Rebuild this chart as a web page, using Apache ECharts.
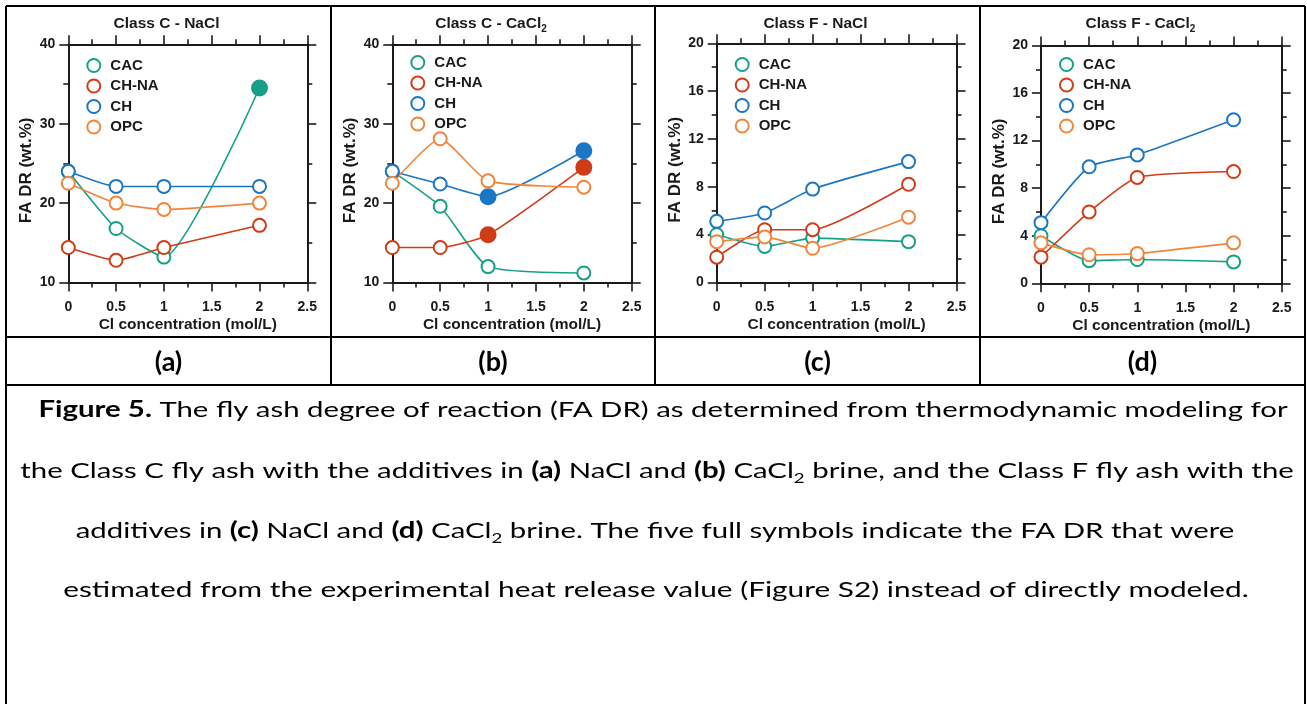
<!DOCTYPE html>
<html>
<head>
<meta charset="utf-8">
<script src="https://cdn.jsdelivr.net/npm/echarts@6/dist/echarts.min.js"></script>
<style>
  html, body { margin: 0; padding: 0; background: #fff; }
  #main { width: 1307px; height: 704px; }
</style>
</head>
<body>
<div id="main"></div>
<script>
// ---- data ----
var xValues = [0, 0.5, 1, 2];
var xTicks = [0, 0.5, 1, 1.5, 2, 2.5];
var classCYTicks = [10, 20, 30, 40];
var classFYTicks = [0, 4, 8, 12, 16, 20];
var seriesNames = ['CAC', 'CH-NA', 'CH', 'OPC'];

// (a) Class C - NaCl
var aCAC = [24.0, 16.8, 13.2, 34.5];
var aCHNA = [14.4, 12.8, 14.4, 17.2];
var aCH = [24.0, 22.1, 22.1, 22.1];
var aOPC = [22.5, 20.0, 19.2, 20.0];
// (b) Class C - CaCl2
var bCAC = [24.0, 19.6, 12.0, 11.2];
var bCHNA = [14.4, 14.4, 16.0, 24.5];
var bCH = [24.0, 22.4, 20.8, 26.6];
var bOPC = [22.5, 28.1, 22.8, 22.0];
// (c) Class F - NaCl
var cCAC = [4.0, 3.0, 3.7, 3.4];
var cCHNA = [2.1, 4.4, 4.4, 8.2];
var cCH = [5.1, 5.8, 7.8, 10.1];
var cOPC = [3.4, 3.8, 2.85, 5.45];
// (d) Class F - CaCl2
var dCAC = [4.0, 1.9, 2.0, 1.8];
var dCHNA = [2.2, 6.0, 8.9, 9.4];
var dCH = [5.1, 9.8, 10.8, 13.75];
var dOPC = [3.4, 2.4, 2.5, 3.4];

// full symbols: [series index, point index]
var aFilled = [[0, 3]];
var bFilled = [[1, 2], [1, 3], [2, 2], [2, 3]];
var cFilled = [];
var dFilled = [];

var panelTitles = ['Class C - NaCl', 'Class C - CaCl{sub|2}', 'Class F - NaCl', 'Class F - CaCl{sub|2}'];
var panelLabels = ['(a)', '(b)', '(c)', '(d)'];

// ---- styling ----
var colors = ['#16a087', '#d03c17', '#1b76c4', '#f2853c'];
var axisColor = '#1a1a1a';
var font = 'Liberation Sans';
var capFont = 'Lato';

var panels = [
  { data: [aCAC, aCHNA, aCH, aOPC], filled: aFilled, yTicks: classCYTicks, rect: [68.3, 44.3, 239, 238.2], legendTop: 58, cell: [6, 331] },
  { data: [bCAC, bCHNA, bCH, bOPC], filled: bFilled, yTicks: classCYTicks, rect: [392.3, 44.3, 239.4, 238.2], legendTop: 55, cell: [331, 655] },
  { data: [cCAC, cCHNA, cCH, cOPC], filled: cFilled, yTicks: classFYTicks, rect: [716.7, 43.3, 239.8, 239], legendTop: 57, cell: [655, 980] },
  { data: [dCAC, dCHNA, dCH, dOPC], filled: dFilled, yTicks: classFYTicks, rect: [1041, 45.5, 240.7, 237.8], legendTop: 57, cell: [980, 1305] }
];

var chart = echarts.init(document.getElementById('main'));

var grids = [], xAxes = [], yAxes = [], series = [], legends = [], graphics = [];

function tickLine() { return { show: true, inside: false, length: 9, lineStyle: { color: axisColor, width: 1.6 } }; }
function minorLine() { return { show: true, splitNumber: 2, length: 5, lineStyle: { color: axisColor, width: 1.6 } }; }

panels.forEach(function (p, i) {
  var r = p.rect;
  grids.push({ left: r[0], top: r[1], width: r[2], height: r[3], containLabel: false });

  var xBase = {
    type: 'value', gridIndex: i, min: xTicks[0], max: xTicks[xTicks.length - 1],
    interval: xTicks[1] - xTicks[0],
    axisLine: { show: true, onZero: false, lineStyle: { color: axisColor, width: 2 } },
    axisTick: tickLine(), minorTick: minorLine(),
    splitLine: { show: false }, minorSplitLine: { show: false }
  };
  xAxes.push(Object.assign({}, xBase, {
    position: 'bottom',
    axisLabel: { show: true, margin: 18, fontSize: 14, fontWeight: 'bold', color: axisColor, fontFamily: font },
    name: 'Cl concentration (mol/L)', nameLocation: 'middle', nameGap: 34,
    nameTextStyle: { fontSize: 15.5, fontWeight: 'bold', color: axisColor, fontFamily: font }
  }));
  xAxes.push(Object.assign({}, xBase, { position: 'top', axisLabel: { show: false } }));

  var yBase = {
    type: 'value', gridIndex: i, min: p.yTicks[0], max: p.yTicks[p.yTicks.length - 1],
    interval: p.yTicks[1] - p.yTicks[0],
    axisLine: { show: true, onZero: false, lineStyle: { color: axisColor, width: 2 } },
    axisTick: tickLine(), minorTick: minorLine(),
    splitLine: { show: false }, minorSplitLine: { show: false }
  };
  yAxes.push(Object.assign({}, yBase, {
    position: 'left',
    axisLabel: { show: true, margin: 13, fontSize: 14, fontWeight: 'bold', color: axisColor, fontFamily: font },
    name: 'FA DR (wt.%)', nameLocation: 'middle', nameGap: 33, nameRotate: 90,
    nameTextStyle: { fontSize: 17, fontWeight: 'bold', color: axisColor, fontFamily: font, padding: [0, 14, 0, 0] }
  }));
  yAxes.push(Object.assign({}, yBase, { position: 'right', axisLabel: { show: false } }));

  p.data.forEach(function (vals, s) {
    var c = colors[s];
    series.push({
      name: seriesNames[s], type: 'line', xAxisIndex: 2 * i, yAxisIndex: 2 * i,
      smooth: 0.18, symbol: 'circle', symbolSize: 13, showAllSymbol: true,
      lineStyle: { color: c, width: 1.6 },
      itemStyle: { color: '#fff', borderColor: c, borderWidth: 2 },
      emphasis: { disabled: true },
      data: vals.map(function (v, k) {
        var full = p.filled.some(function (f) { return f[0] === s && f[1] === k; });
        return full ? { value: [xValues[k], v], symbolSize: 15, itemStyle: { color: c, borderColor: c } } : [xValues[k], v];
      })
    });
  });

  legends.push({
    data: seriesNames, orient: 'vertical', left: r[0] + 18, top: p.legendTop, padding: 0,
    icon: 'circle', itemWidth: 13, itemHeight: 13, itemGap: 5.5,
    selectedMode: false,
    textStyle: { fontSize: 15, fontWeight: 'bold', color: axisColor, fontFamily: font, lineHeight: 14, padding: [0, 0, 0, 5] }
  });

  var cx = (p.cell[0] + p.cell[1]) / 2;
  graphics.push({
    type: 'text', x: cx - 2, y: 24,
    style: {
      text: panelTitles[i], fill: axisColor, align: 'center', verticalAlign: 'middle',
      textAlign: 'center', textVerticalAlign: 'middle',
      fontSize: 15.5, fontWeight: 'bold', fontFamily: font, lineHeight: 20,
      rich: { sub: { fontSize: 10, fontWeight: 'bold', fontFamily: font, fill: axisColor, verticalAlign: 'bottom', lineHeight: 10 } }
    }
  });
  graphics.push({
    type: 'text', x: cx, y: 362,
    style: {
      text: panelLabels[i], fill: '#000', align: 'center', verticalAlign: 'middle',
      textAlign: 'center', textVerticalAlign: 'middle',
      fontSize: 27, fontWeight: 'bold', fontFamily: capFont
    }
  });
});

// table borders
var L = 6, R = 1305, T = 6, B = 704;
function seg(x1, y1, x2, y2) {
  return { type: 'line', shape: { x1: x1, y1: y1, x2: x2, y2: y2 }, style: { stroke: '#000', lineWidth: 2 }, z: 10 };
}
graphics.push(seg(L, T, R, T), seg(L, 337, R, 337), seg(L, 385, R, 385),
  seg(L, T, L, B), seg(R, T, R, B), seg(331, T, 331, 385), seg(655, T, 655, 385), seg(980, T, 980, 385));

// caption
var captionLines = [
  '{b|Figure 5.} The fly ash degree of reaction (FA DR) as determined from thermodynamic modeling for',
  'the Class C fly ash with the additives in {b|(a)} NaCl and {b|(b)} CaCl{sub|2} brine, and the Class F fly ash with the',
  'additives in {b|(c)} NaCl and {b|(d)} CaCl{sub|2} brine. The five full symbols indicate the FA DR that were',
  'estimated from the experimental heat release value (Figure S2) instead of directly modeled.'
];
var captionX = [663, 657, 655, 656];
var captionY = [410, 471, 531, 590];
var captionScale = [1.335, 1.335, 1.335, 1.355];
captionLines.forEach(function (t, k) {
  graphics.push({
    type: 'text', x: captionX[k], y: captionY[k], scaleX: captionScale[k],
    style: {
      text: t, fill: '#000', align: 'center', verticalAlign: 'middle',
      textAlign: 'center', textVerticalAlign: 'middle',
      fontSize: 22, fontFamily: capFont, lineHeight: 28,
      rich: {
        b: { fontSize: 22, fontFamily: capFont, fontWeight: 'bold', fill: '#000', lineHeight: 28 },
        sub: { fontSize: 14, fontFamily: capFont, fill: '#000', verticalAlign: 'bottom', lineHeight: 14 }
      }
    }
  });
});

chart.setOption({
  animation: false,
  backgroundColor: '#fff',
  grid: grids,
  xAxis: xAxes,
  yAxis: yAxes,
  legend: legends,
  series: series,
  graphic: { elements: graphics }
});
</script>
</body>
</html>
